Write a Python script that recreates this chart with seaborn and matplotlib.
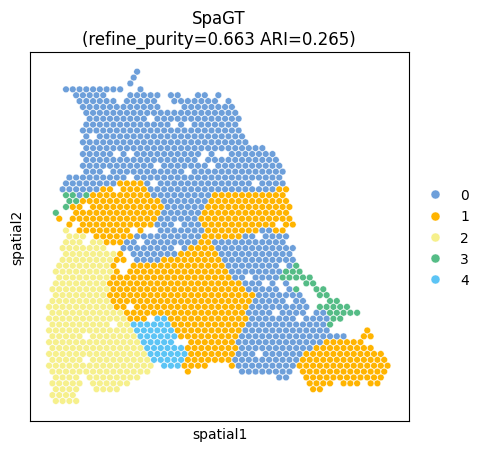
import pandas as pd
import matplotlib
matplotlib.use("Agg")
import matplotlib.pyplot as plt
import seaborn as sns

cluster_names = ["0", "1", "2", "3", "4"]
cluster_colors = ["#6D9FDA", "#FFB400", "#F6F08C", "#55BC86", "#5CC4F5"]

# spots as (array_row, first_col, last_col), hex grid so col goes in steps of 2
runs_0 = [
    (0, 21, 21), (1, 20, 20), (2, 19, 19), (3, 0, 16), (3, 22, 22),
    (4, 3, 11), (4, 19, 27), (4, 31, 33), (4, 39, 41), (4, 45, 45),
    (5, 4, 14), (5, 18, 26), (5, 32, 44), (5, 48, 48),
    (6, 5, 27), (6, 35, 49), (7, 6, 50), (8, 7, 51), (9, 6, 50), (10, 5, 51),
    (11, 6, 52), (12, 5, 53), (13, 6, 58), (14, 5, 61), (15, 6, 62),
    (16, 5, 63), (17, 6, 64), (18, 1, 63), (19, 0, 14), (19, 24, 64),
    (20, -1, 9), (20, 25, 61), (21, 4, 4), (21, 26, 42), (22, 29, 41),
    (23, 30, 40), (24, 29, 39), (25, 28, 38), (26, 27, 39), (27, 28, 40),
    (27, 58, 60), (28, 21, 39), (28, 53, 65), (29, 18, 38), (29, 44, 64),
    (30, 17, 35), (30, 45, 67), (31, 20, 32), (31, 46, 66), (32, 21, 27),
    (32, 47, 67), (33, 48, 66), (34, 49, 63), (35, 50, 62), (36, 53, 61),
    (36, 65, 65), (37, 54, 62), (37, 66, 66), (38, 57, 69), (39, 56, 70),
    (40, 55, 71), (41, 54, 70), (41, 74, 76), (42, 55, 77), (43, 54, 76),
    (44, 53, 77), (45, 52, 82), (46, 51, 75), (47, 52, 72), (48, 51, 69),
    (49, 50, 68), (50, 51, 67), (51, 52, 66), (52, 63, 65),
]
runs_1 = [
    (19, 16, 22), (20, 11, 13), (20, 17, 23), (20, 63, 65), (21, 8, 24),
    (21, 44, 64), (22, 5, 27), (22, 43, 65), (23, 2, 28), (23, 42, 66),
    (24, 3, 27), (24, 41, 65), (25, -2, -2), (25, 2, 26), (25, 40, 66),
    (26, 1, 1), (26, 5, 25), (26, 41, 61), (26, 65, 67), (27, 4, 18),
    (27, 22, 22), (27, 42, 56), (27, 62, 64), (28, 9, 19), (28, 41, 51),
    (29, 12, 16), (29, 40, 42), (30, 37, 43), (31, 16, 16), (31, 34, 44),
    (32, 15, 17), (32, 29, 45), (33, 14, 14), (33, 20, 46), (34, 15, 15),
    (34, 19, 47), (35, 14, 48), (36, 13, 51), (37, 14, 52), (38, 13, 55),
    (39, 14, 54), (40, 15, 53), (41, 18, 52), (42, 19, 23), (42, 31, 53),
    (43, 32, 52), (44, 33, 51), (44, 89, 89), (45, 34, 50), (45, 88, 90),
    (46, 37, 49), (46, 77, 87), (47, 36, 50), (47, 74, 90), (48, 37, 49),
    (48, 71, 93), (49, 36, 48), (49, 70, 94), (50, 35, 41), (50, 49, 49),
    (50, 69, 95), (51, 36, 36), (51, 70, 94), (52, 71, 93), (53, 72, 78),
    (53, 82, 86), (53, 90, 92), (54, 73, 75),
]
runs_2 = [
    (27, 0, 0), (28, 1, 5), (29, 0, 10), (30, -1, 11), (31, 0, 14),
    (32, -1, 13), (33, -2, 12), (34, -3, 13), (35, -2, 12), (36, -3, 11),
    (37, -4, 12), (38, -3, 11), (39, -4, 12), (40, -5, 13), (41, -4, 16),
    (42, -5, 17), (43, -4, 18), (44, -5, 19), (45, -4, 20), (46, -5, 21),
    (47, -4, 22), (48, -5, 23), (49, -4, 24), (50, -5, 25), (51, -4, 24),
    (52, -3, 3), (52, 7, 21), (53, -4, 4), (53, 8, 18), (54, -3, 3),
    (54, 9, 15), (55, -4, 2), (56, -3, 3),
]
runs_3 = [
    (21, 0, 2), (21, 6, 6), (22, 1, 3), (23, 0, 0), (24, -3, -3),
    (33, 68, 68), (34, 65, 69), (35, 64, 72), (36, 71, 73), (37, 68, 68),
    (37, 74, 76), (38, 75, 77), (39, 78, 80), (40, 75, 83), (41, 78, 86),
    (42, 79, 81), (43, 78, 78),
]
runs_4 = [
    (42, 27, 29), (43, 20, 30), (44, 21, 31), (45, 22, 32), (46, 23, 31),
    (47, 24, 34), (48, 25, 35), (49, 26, 34), (50, 29, 33),
]
# tissue gaps inside the runs, (array_row, col)
holes = [
    (8, 25), (9, 32), (9, 36), (11, 8), (14, 15), (14, 19), (14, 41), (14, 45),
    (14, 47), (15, 40), (16, 27), (16, 43), (17, 12), (17, 36), (18, 19),
    (19, 26), (19, 56), (23, 6), (26, 33), (28, 57), (29, 6), (29, 22), (30, 33),
    (33, 64), (35, 54), (36, 59), (36, 63), (37, 64), (39, 66), (40, 19),
    (41, 62), (42, 69), (43, 14), (45, 6), (48, 57), (49, 6),
]

records = []
for name, runs in zip(cluster_names, [runs_0, runs_1, runs_2, runs_3, runs_4]):
    for row, first, last in runs:
        for col in range(first, last + 1, 2):
            if (row, col) not in holes:
                records.append((col, row, name))
df = pd.DataFrame(records, columns=["spatial1", "spatial2", "cluster"])

fig = plt.figure(figsize=(4.84, 4.52), dpi=100)
ax = fig.add_axes([30 / 484, 1 - 422 / 452, 379 / 484, 369 / 452])
sns.scatterplot(data=df, x="spatial1", y="spatial2", hue="cluster",
                hue_order=cluster_names, palette=cluster_colors,
                s=23, linewidth=0.3, edgecolor="white", ax=ax)
ax.set_xlim((30 - 66) / 3.385, (409 - 66) / 3.385)
ax.set_ylim((422 - 72.7) / 5.88, (53 - 72.7) / 5.88)
ax.set_xticks([])
ax.set_yticks([])
ax.set_title("SpaGT\n(refine_purity=0.663 ARI=0.265)", fontsize=12, x=0.499)
handles, labels = ax.get_legend_handles_labels()
ax.legend(handles, labels, loc="center left", bbox_to_anchor=(1, 0.497),
          frameon=False, fontsize=10, markerscale=1.35, labelspacing=0.52)
fig.savefig("out.png", dpi=100)
